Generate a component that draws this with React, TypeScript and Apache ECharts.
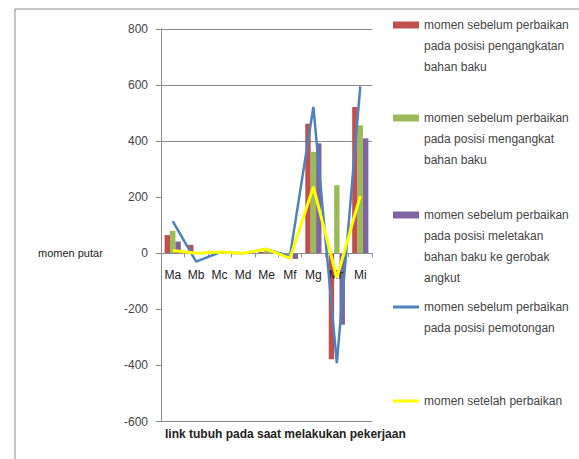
import React, { useEffect, useRef } from "react";
import * as echarts from "echarts";

const categories = ["Ma", "Mb", "Mc", "Md", "Me", "Mf", "Mg", "Mh", "Mi"];
const yTicks = [-600, -400, -200, 0, 200, 400, 600, 800];

const nameRed = "momen sebelum perbaikan\npada posisi pengangkatan\nbahan baku";
const nameGreen = "momen sebelum perbaikan\npada posisi mengangkat\nbahan baku";
const namePurple = "momen sebelum perbaikan\npada posisi meletakan\nbahan baku ke gerobak\nangkut";
const nameBlue = "momen sebelum perbaikan\npada posisi pemotongan";
const nameYellow = "momen setelah perbaikan";

const redValues = [65, 30, 3, 2, 5, 0, 462, -378, 522];
const greenValues = [80, 0, 2, 0, 8, 0, 362, 243, 457];
const purpleValues = [42, 0, 0, 0, 3, -20, 392, -255, 410];
const blueValues = [115, -30, 3, 0, 15, -10, 522, -392, 595];
const yellowValues = [10, 0, 5, 0, 15, -18, 237, -88, 205];

const FONT = "'Liberation Sans', Arial, sans-serif";

export default function App() {
  const ref = useRef<HTMLDivElement>(null);
  useEffect(() => {
    document.body.style.margin = "0";
    const chart = echarts.init(ref.current!, null, { renderer: "svg" });
    const lh = 21;
    const gridTop = 29;
    const gridBottom = 37.5;
    const plotH = 459 - gridTop - gridBottom;
    const zeroFromBottom = (0 - yTicks[0]) / (yTicks[yTicks.length - 1] - yTicks[0]) * plotH;
    const mkLegend = (name: string, c: number, n: number, h: number) => ({
      data: [name],
      left: 393,
      top: c - ((2 * n - 1) * lh) / 2,
      orient: "vertical",
      padding: 0,
      itemWidth: 26,
      itemHeight: h,
      icon: "rect",
      selectedMode: false,
      formatter: (nm: string) => "\n".repeat(n - 1) + nm,
      textStyle: {
        fontSize: 12,
        lineHeight: lh,
        color: "#444",
        fontFamily: FONT,
      },
    });
    const gridColors = yTicks.map((v) =>
      v === 800 || v === 600 || v === 400 || v === -600 ? "#8c8c8c" : "rgba(0,0,0,0)"
    );
    chart.setOption({
      animation: false,
      backgroundColor: "#fff",
      grid: { left: 161, right: 207, top: gridTop, bottom: gridBottom },
      legend: [
        mkLegend(nameRed, 25, 3, 7),
        mkLegend(nameGreen, 118, 3, 7),
        mkLegend(namePurple, 215, 4, 7),
        mkLegend(nameBlue, 307, 2, 3),
        mkLegend(nameYellow, 401, 1, 3),
      ],
      xAxis: {
        type: "category",
        data: categories,
        position: "bottom",
        offset: -zeroFromBottom,
        z: 3,
        axisLine: { onZero: false, lineStyle: { color: "#8c8c8c", width: 1 } },
        axisTick: { show: true, length: 4, lineStyle: { color: "#8c8c8c" } },
        axisLabel: { margin: 16, fontSize: 12, color: "#222", fontFamily: FONT },
        splitLine: { show: false },
      },
      yAxis: {
        type: "value",
        min: -600,
        max: 800,
        interval: 200,
        axisLine: { show: true, lineStyle: { color: "#8c8c8c", width: 1 } },
        axisTick: { show: true, length: 5, lineStyle: { color: "#8c8c8c" } },
        axisLabel: { margin: 13, fontSize: 12, color: "#444", fontFamily: FONT },
        splitLine: { show: true, lineStyle: { color: gridColors, width: 1 } },
      },
      series: [
        { name: nameRed, type: "bar", data: redValues, barWidth: 5.4, barGap: "0%", itemStyle: { color: "#C0504D" } },
        { name: nameGreen, type: "bar", data: greenValues, barWidth: 5.4, barGap: "0%", itemStyle: { color: "#9BBB59" } },
        { name: namePurple, type: "bar", data: purpleValues, barWidth: 5.4, barGap: "0%", itemStyle: { color: "#8064A2" } },
        { name: nameBlue, type: "line", data: blueValues, showSymbol: false, symbol: "none", lineStyle: { color: "#4F81BD", width: 2.5 }, itemStyle: { color: "#4F81BD" } },
        { name: nameYellow, type: "line", data: yellowValues, showSymbol: false, symbol: "none", lineStyle: { color: "#FFFF00", width: 3 }, itemStyle: { color: "#FFFF00" } },
      ],
      graphic: [
        {
          type: "rect",
          shape: { x: 15, y: 9, width: 700, height: 600 },
          style: { fill: "none", stroke: "#8c8c8c", lineWidth: 1 },
          z: -10,
        },
        {
          type: "text",
          x: 38,
          y: 253,
          style: { text: "momen putar", fontSize: 11, fill: "#222", fontFamily: FONT, verticalAlign: "middle" },
        },
        {
          type: "text",
          x: 165,
          y: 434,
          style: { text: "link tubuh pada saat melakukan pekerjaan", fontSize: 12, fontWeight: "bold", fill: "#222", fontFamily: FONT, verticalAlign: "middle" },
        },
      ],
    });
    return () => chart.dispose();
  }, []);
  return <div ref={ref} style={{ position: "fixed", left: 0, top: 0, width: 579, height: 459 }} />;
}
